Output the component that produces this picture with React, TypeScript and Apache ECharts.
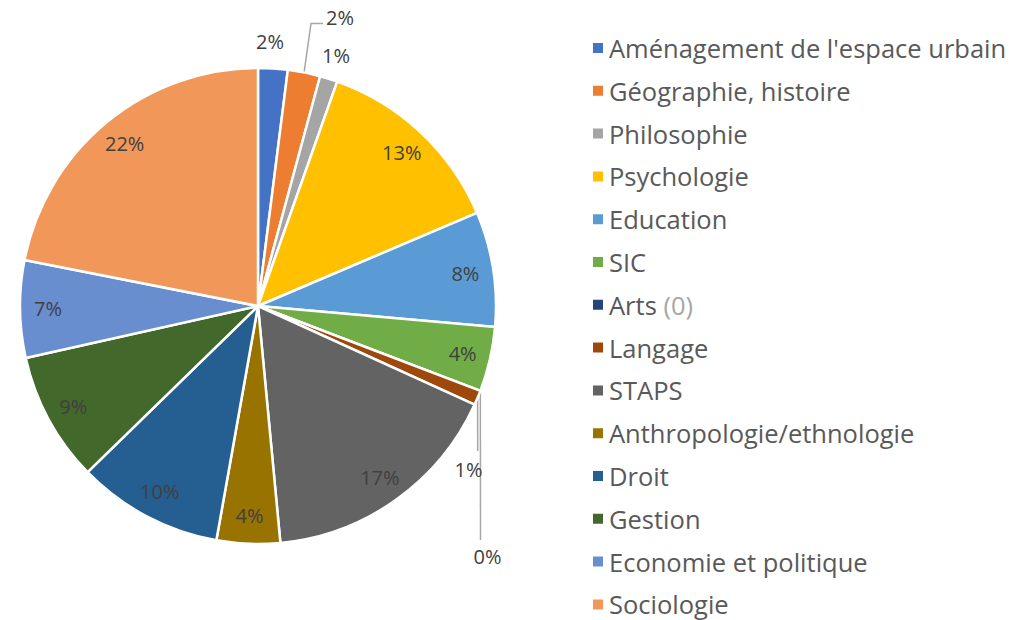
import React, { useEffect, useRef } from "react";
import * as echarts from "echarts";

const categories = [
  "Aménagement de l'espace urbain",
  "Géographie, histoire",
  "Philosophie",
  "Psychologie",
  "Education",
  "SIC",
  "Arts",
  "Langage",
  "STAPS",
  "Anthropologie/ethnologie",
  "Droit",
  "Gestion",
  "Economie et politique",
  "Sociologie",
];
const values = [2.0, 2.2, 1.2, 13.2, 7.8, 4.4, 0, 1.0, 16.7, 4.3, 9.9, 8.8, 6.6, 21.9];
const colors = [
  "#4472C4", "#ED7D31", "#A5A5A5", "#FFC000", "#5B9BD5", "#70AD47", "#264478",
  "#9E480E", "#636363", "#997300", "#255E91", "#43682B", "#698ED0", "#F1975A",
];
const outsideLabels = [0, 1, 2, 6, 7];

// layout of the hand-placed outside labels (label centre, leader line bend points)
const outsideLayout: Record<number, { x: number; y: number; line?: number[][] }> = {
  0: { x: 270, y: 41 },
  1: { x: 340, y: 17, line: [[311, 23.5], [323, 23.5]] },
  2: { x: 336, y: 55 },
  6: { x: 487.5, y: 556, line: [[480.5, 540], [480.5, 540]] },
  7: { x: 468.5, y: 469, line: [[477.7, 451], [477.7, 451]] },
};

const FONT = "'Open Sans', 'Noto Sans', sans-serif";

export default function App() {
  const ref = useRef<HTMLDivElement>(null);
  useEffect(() => {
    document.body.style.margin = "0";
    const chart = echarts.init(ref.current!, null, { renderer: "svg" });
    const fmt = (p: any) => Math.round(p.percent) + "%";
    chart.setOption({
      animation: false,
      color: colors,
      legend: {
        orient: "vertical",
        left: 586,
        top: 30,
        height: 600,
        icon: "rect",
        itemWidth: 12,
        itemHeight: 12,
        itemGap: 16.8,
        data: categories,
        textStyle: {
          fontFamily: FONT,
          fontSize: 25.5,
          lineHeight: 26,
          color: "#595959",
          rich: { g: { color: "#A6A6A6", fontFamily: FONT, fontSize: 25.5, lineHeight: 26 } },
        },
        formatter: (n: string) => (n === "Arts" ? "Arts {g|(0)}" : n),
      },
      series: [
        {
          type: "pie",
          center: [258, 306],
          radius: 238,
          startAngle: 90,
          clockwise: true,
          itemStyle: { borderColor: "#fff", borderWidth: 2.5 },
          emphasis: { disabled: true },
          label: {
            show: false,
            position: "outside",
            fontFamily: FONT,
            fontSize: 20,
            color: "#404040",
            formatter: fmt,
          },
          labelLine: { lineStyle: { color: "#A6A6A6", width: 1.5 }, length: 12, length2: 8 },
          labelLayout: (params: any) => {
            const cfg = outsideLayout[params.dataIndex];
            if (!cfg) return {};
            const out: any = { x: cfg.x, y: cfg.y, align: "center", verticalAlign: "middle" };
            if (cfg.line && params.labelLinePoints) {
              out.labelLinePoints = [params.labelLinePoints[0], cfg.line[0], cfg.line[1]];
            }
            return out;
          },
          data: categories.map((name, i) => ({
            name,
            value: values[i],
            label: { show: outsideLabels.includes(i) },
            labelLine: { show: !!(outsideLayout[i] && outsideLayout[i].line) },
          })),
        },
        {
          type: "pie",
          center: [258, 306],
          radius: [176, 238],
          startAngle: 90,
          clockwise: true,
          silent: true,
          itemStyle: { color: "transparent", borderWidth: 0 },
          emphasis: { disabled: true },
          label: {
            show: true,
            position: "inside",
            fontFamily: FONT,
            fontSize: 20,
            color: "#404040",
            formatter: fmt,
          },
          labelLine: { show: false },
          data: categories.map((name, i) => ({
            name,
            value: values[i],
            label: { show: !outsideLabels.includes(i) },
          })),
        },
      ],
    });
    return () => chart.dispose();
  }, []);
  return <div ref={ref} style={{ width: 1013, height: 620 }} />;
}
